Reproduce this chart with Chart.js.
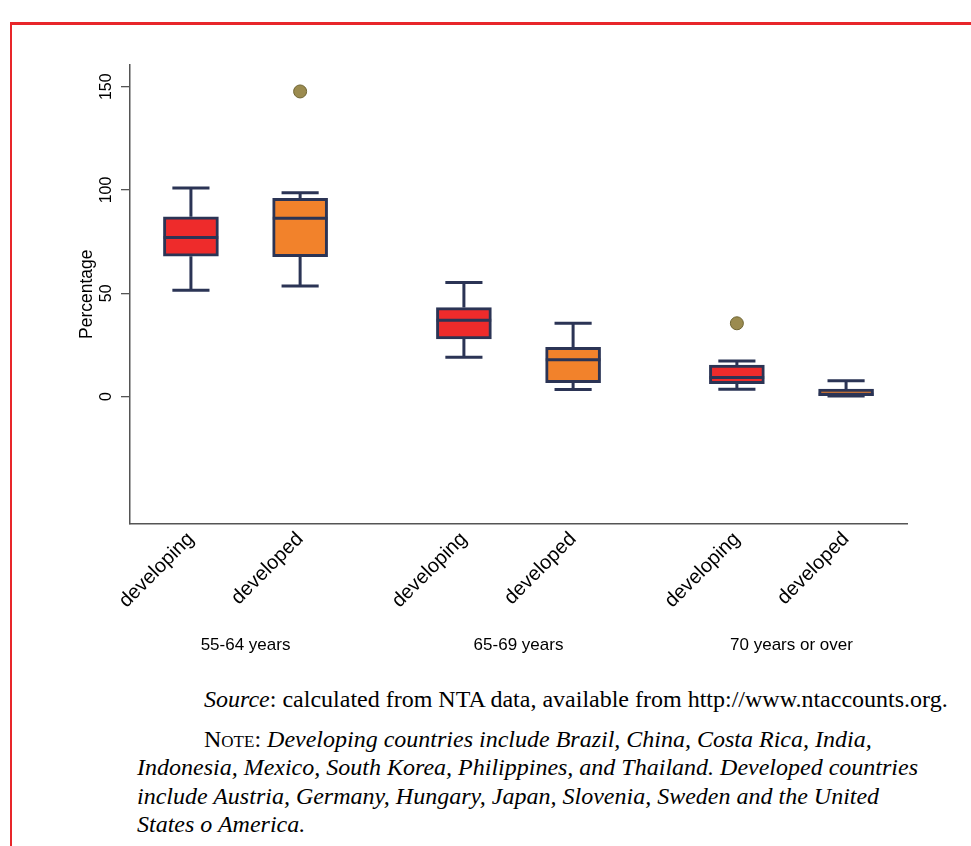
<!DOCTYPE html>
<html>
<head>
<meta charset="utf-8">
<script src="https://cdn.jsdelivr.net/npm/chart.js@4.4.1/dist/chart.umd.min.js"></script>
<style>
  html, body { margin: 0; padding: 0; background: #fff; }
  body { width: 971px; height: 846px; position: relative; overflow: hidden; }
  #frame {
    position: absolute; left: 10px; top: 22px; width: 1000px; height: 900px;
    border-left: 2px solid #e8262a; border-top: 3px solid #e8262a;
  }
  #chart { position: absolute; left: 0; top: 0; }
  #notes {
    position: absolute; left: 137px; top: 685px;
    font-family: "Liberation Serif", "Times New Roman", serif;
    font-size: 24px; line-height: 28.5px; color: #000; white-space: nowrap;
  }
  #notes p { margin: 0; text-indent: 67px; }
  #notes p + p { margin-top: 11px; }
  .sc { font-variant: small-caps; }
</style>
</head>
<body>
<div id="frame"></div>
<canvas id="chart" width="971" height="680"></canvas>
<div id="notes">
  <p><i>Source</i>: calculated from NTA data, available from http://www.ntaccounts.org.</p>
  <p><span class="sc">Note</span>: <i>Developing countries include Brazil, China, Costa Rica, India,<br>Indonesia, Mexico, South Korea, Philippines, and Thailand. Developed countries<br>include Austria, Germany, Hungary, Japan, Slovenia, Sweden and the United<br>States o America.</i></p>
</div>

<script>
// age groups, and the two country types inside each group
const groups = ['55-64 years', '65-69 years', '70 years or over'];
const categories = ['developing', 'developed', 'developing', 'developed', 'developing', 'developed'];

// box plot statistics, one value per box (percent)
const whiskerHigh = [101, 98.7, 55.2, 35.5, 17.3, 7.7];
const upperQuartile = [87, 96, 43.1, 23.9, 15.3, 3.6];
const median = [77, 86.3, 37, 17.9, 9.2, 1.2];
const lowerQuartile = [68, 67.7, 27.9, 6.8, 6.3, 0.5];
const whiskerLow = [51.5, 53.6, 19.1, 3.4, 3.6, 0.3];

// outside values: box index and value
const outlierBox = [1, 4];
const outlierValue = [147.7, 35.5];

const yTicks = [0, 50, 100, 150];

const RED = '#ee2b2b';
const ORANGE = '#f2822b';
const NAVY = '#2b3455';
const OLIVE = '#9b8b4f';
const FONT = "'Liberation Sans', Arial, sans-serif";

// two boxes per group, groups separated by an extra half slot
const GROUP_GAP = 2.5;
const slot = categories.map((c, i) => Math.floor(i / 2) * GROUP_GAP + 1 + (i % 2));
const groupCentre = groups.map((g, i) => i * GROUP_GAP + 1.5);

const BOX_HALF = 0.25;
const CAP_HALF = 0.17;

const boxData = slot.map((x, i) => ({ x: x, y: [lowerQuartile[i], upperQuartile[i]] }));

const medianData = [];
const whiskerData = [];
slot.forEach((x, i) => {
    medianData.push({ x: x - BOX_HALF, y: median[i] }, { x: x + BOX_HALF, y: median[i] }, { x: x, y: null });

    whiskerData.push({ x: x, y: whiskerHigh[i] }, { x: x, y: upperQuartile[i] }, { x: x, y: null });
    whiskerData.push({ x: x, y: lowerQuartile[i] }, { x: x, y: whiskerLow[i] }, { x: x, y: null });
    whiskerData.push({ x: x - CAP_HALF, y: whiskerHigh[i] }, { x: x + CAP_HALF, y: whiskerHigh[i] }, { x: x, y: null });
    whiskerData.push({ x: x - CAP_HALF, y: whiskerLow[i] }, { x: x + CAP_HALF, y: whiskerLow[i] }, { x: x, y: null });
});

const outlierData = outlierBox.map((b, i) => ({ x: slot[b], y: outlierValue[i] }));

const X_MIN = 0.442;
const X_MAX = 7.558;

new Chart(document.getElementById('chart'), {
    type: 'bar',
    data: {
        datasets: [
            {
                type: 'line',
                data: medianData,
                borderColor: NAVY,
                borderWidth: 3,
                pointRadius: 0,
                spanGaps: false,
                order: 0
            },
            {
                type: 'bar',
                data: boxData,
                backgroundColor: categories.map((c, i) => i % 2 === 0 ? RED : ORANGE),
                borderColor: NAVY,
                borderWidth: 3,
                borderSkipped: false,
                barThickness: 55,
                order: 1
            },
            {
                type: 'line',
                data: whiskerData,
                borderColor: NAVY,
                borderWidth: 3,
                pointRadius: 0,
                spanGaps: false,
                order: 2
            },
            {
                type: 'scatter',
                data: outlierData,
                backgroundColor: OLIVE,
                borderColor: '#6f6533',
                borderWidth: 1,
                pointRadius: 6.5,
                order: 0
            }
        ]
    },
    options: {
        responsive: false,
        animation: false,
        layout: { padding: { left: 0, right: 64, top: 65, bottom: 11.5 } },
        plugins: { legend: { display: false }, tooltip: { enabled: false } },
        scales: {
            x: {
                type: 'linear',
                position: 'bottom',
                weight: 0,
                min: X_MIN,
                max: X_MAX,
                offset: false,
                afterBuildTicks: s => { s.ticks = slot.map(v => ({ value: v })); },
                afterFit: s => { s.height = 100; },
                grid: { display: false, drawTicks: false },
                border: { display: true, color: '#555', width: 1.5 },
                ticks: {
                    autoSkip: false,
                    minRotation: 45,
                    maxRotation: 45,
                    padding: 4,
                    color: '#000',
                    font: { family: FONT, size: 20 },
                    callback: (v, i) => categories[i]
                }
            },
            x2: {
                type: 'linear',
                position: 'bottom',
                weight: 1,
                min: X_MIN,
                max: X_MAX,
                offset: false,
                afterBuildTicks: s => { s.ticks = groupCentre.map(v => ({ value: v })); },
                afterFit: s => { s.height = 45; },
                grid: { display: false, drawTicks: false },
                border: { display: false },
                ticks: {
                    autoSkip: false,
                    minRotation: 0,
                    maxRotation: 0,
                    padding: 12,
                    color: '#000',
                    font: { family: FONT, size: 17 },
                    callback: (v, i) => groups[i]
                }
            },
            y: {
                type: 'linear',
                min: -61.4,
                max: 160.5,
                afterBuildTicks: s => { s.ticks = yTicks.map(v => ({ value: v })); },
                afterFit: s => { s.width = 130; },
                grid: {
                    display: true,
                    drawOnChartArea: false,
                    drawTicks: true,
                    tickLength: 9,
                    color: '#555',
                    lineWidth: 1.3
                },
                border: { display: true, color: '#555', width: 1.5 },
                ticks: {
                    minRotation: 90,
                    maxRotation: 90,
                    crossAlign: 'center',
                    padding: 1,
                    color: '#000',
                    font: { family: FONT, size: 16 }
                },
                title: {
                    display: true,
                    text: 'Percentage',
                    color: '#000',
                    font: { family: FONT, size: 17.5 },
                    padding: { top: 77, bottom: 0 }
                }
            }
        }
    }
});
</script>
</body>
</html>
